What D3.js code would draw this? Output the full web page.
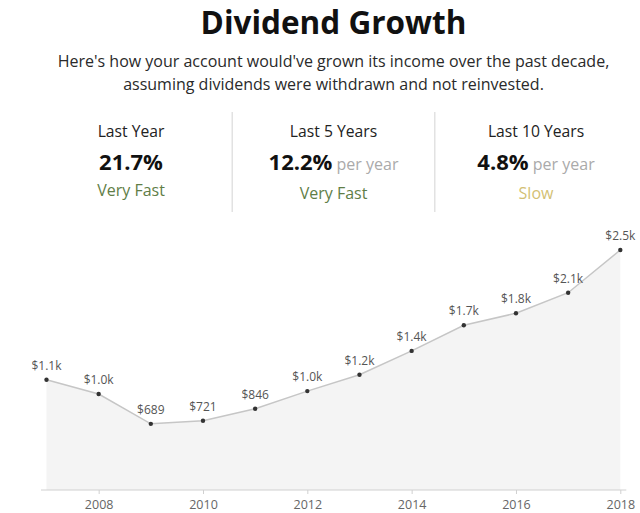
<!DOCTYPE html>
<html>
<head>
<meta charset="utf-8">
<script src="https://cdn.jsdelivr.net/npm/d3@7"></script>
<style>
  body { margin: 0; background: #fff; font-family: "Open Sans", sans-serif; }
</style>
</head>
<body>
<div id="chart"></div>
<script>
// data
var years = [2007, 2008, 2009, 2010, 2011, 2012, 2013, 2014, 2015, 2016, 2017, 2018];
var income = [1149, 1000, 689, 721, 846, 1030, 1200, 1449, 1716, 1841, 2055, 2500];
var tickYears = [2008, 2010, 2012, 2014, 2016, 2018];

var periods = ["Last Year", "Last 5 Years", "Last 10 Years"];
var rates = ["21.7%", "12.2%", "4.8%"];
var rateUnits = ["", "per year", "per year"];
var speeds = ["Very Fast", "Very Fast", "Slow"];

var subtitle = [
  "Here's how your account would've grown its income over the past decade,",
  "assuming dividends were withdrawn and not reinvested."
];

var width = 640, height = 513;
var centerX = 333.5;

var speedColor = d3.scaleOrdinal()
  .domain(["Very Fast", "Fast", "Slow"])
  .range(["#5f7e47", "#7e9a4f", "#d3bf74"]);

var svg = d3.select("#chart").append("svg")
  .attr("width", width)
  .attr("height", height)
  .style("font-family", "'Open Sans', sans-serif");

// header
svg.append("text")
  .attr("x", centerX)
  .attr("y", 34)
  .attr("text-anchor", "middle")
  .style("font-size", "31.5px")
  .style("font-weight", 700)
  .style("fill", "#111")
  .text("Dividend Growth");

svg.selectAll(".sub")
  .data(subtitle).enter()
  .append("text")
  .attr("class", "sub")
  .attr("x", centerX)
  .attr("y", function(d, i) { return 67 + i * 23; })
  .attr("text-anchor", "middle")
  .style("font-size", "16px")
  .style("fill", "#2a2a2a")
  .text(function(d) { return d; });

// summary columns
var colX = d3.scalePoint().domain(periods).range([131, 536]);
var step = colX.step();

var cols = svg.selectAll(".col")
  .data(periods).enter()
  .append("g")
  .attr("class", "col")
  .attr("transform", function(d) { return "translate(" + colX(d) + ",0)"; });

cols.append("text")
  .attr("y", 137)
  .attr("text-anchor", "middle")
  .style("font-size", "15.7px")
  .style("fill", "#222")
  .text(function(d) { return d; });

var rateText = cols.append("text")
  .attr("y", 170)
  .attr("text-anchor", "middle");
rateText.append("tspan")
  .style("font-size", "22px")
  .style("font-weight", 700)
  .style("fill", "#111")
  .text(function(d, i) { return rates[i]; });
rateText.append("tspan")
  .style("font-size", "16px")
  .style("fill", "#aaa")
  .text(function(d, i) { return rateUnits[i] ? " " + rateUnits[i] : ""; });

cols.append("text")
  .attr("y", function(d, i) { return i === 0 ? 196 : 199; })
  .attr("text-anchor", "middle")
  .style("font-size", "16px")
  .style("fill", function(d, i) { return speedColor(speeds[i]); })
  .text(function(d, i) { return speeds[i]; });

svg.selectAll(".divider")
  .data(periods.slice(1)).enter()
  .append("line")
  .attr("class", "divider")
  .attr("x1", function(d) { return colX(d) - step / 2; })
  .attr("x2", function(d) { return colX(d) - step / 2; })
  .attr("y1", 112)
  .attr("y2", 212)
  .style("stroke", "#e2e2e2")
  .style("stroke-width", 1.5);

// chart
var x = d3.scaleLinear().domain([2007, 2018]).range([46.5, 620.3]);
var y = d3.scaleLinear().domain([0, 2500]).range([490, 250]);

var points = years.map(function(yr, i) { return { year: yr, value: income[i] }; });

var area = d3.area()
  .x(function(d) { return x(d.year); })
  .y0(y(0))
  .y1(function(d) { return y(d.value); });

var line = d3.line()
  .x(function(d) { return x(d.year); })
  .y(function(d) { return y(d.value); });

svg.append("path")
  .datum(points)
  .attr("d", area)
  .style("fill", "#f4f4f4");

svg.append("path")
  .datum(points)
  .attr("d", line)
  .style("fill", "none")
  .style("stroke", "#c6c6c6")
  .style("stroke-width", 1.5);

var xAxis = d3.axisBottom(x)
  .tickValues(tickYears)
  .tickFormat(d3.format("d"))
  .tickSize(4)
  .tickSizeOuter(0)
  .tickPadding(6);

var axisG = svg.append("g")
  .attr("class", "x axis")
  .attr("transform", "translate(0," + y(0) + ")")
  .call(xAxis);

axisG.select(".domain").remove();
axisG.append("line")
  .attr("x1", x.range()[0] - 5.5)
  .attr("x2", x.range()[1] + 6)
  .style("stroke", "#d0d0d0");
axisG.selectAll(".tick line").style("stroke", "#d0d0d0");
axisG.selectAll(".tick text")
  .style("font-family", "'Open Sans', sans-serif")
  .style("font-size", "12.5px")
  .style("fill", "#666");

var fmt = function(v) {
  if (v >= 1000) return "$" + (v / 1000).toFixed(1) + "k";
  return "$" + Math.round(v);
};

svg.selectAll(".dot")
  .data(points).enter()
  .append("circle")
  .attr("class", "dot")
  .attr("cx", function(d) { return x(d.year); })
  .attr("cy", function(d) { return y(d.value); })
  .attr("r", 2.2)
  .style("fill", "#333");

svg.selectAll(".vlabel")
  .data(points).enter()
  .append("text")
  .attr("class", "vlabel")
  .attr("x", function(d) { return x(d.year); })
  .attr("y", function(d) { return y(d.value) - 10; })
  .attr("text-anchor", "middle")
  .style("font-size", "12px")
  .style("fill", "#555")
  .text(function(d) { return fmt(d.value); });
</script>
</body>
</html>
